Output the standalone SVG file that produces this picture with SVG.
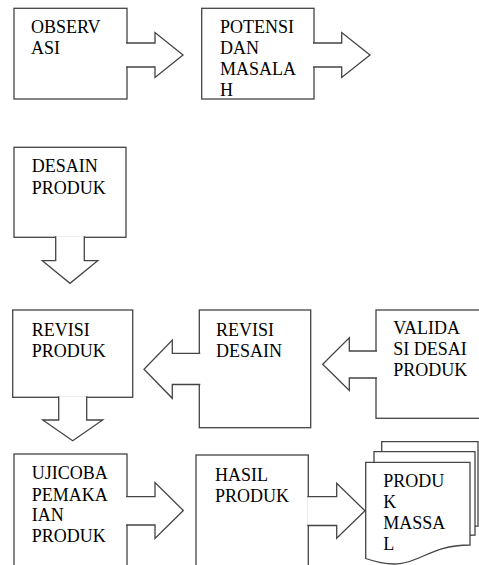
<svg xmlns="http://www.w3.org/2000/svg" width="479" height="565" viewBox="0 0 479 565">
<style>
.box{fill:#fff;stroke:#444;stroke-width:1.3}
.arr{fill:#fff;stroke:#444;stroke-width:1.3;stroke-linejoin:miter}
.t{font-family:"Liberation Serif","Times New Roman",serif;font-size:18px;fill:#000}
</style>
<rect width="479" height="565" fill="#fff"/>
<g id="observasi">
<rect class="box" x="14" y="8.3" width="113" height="90.7"/>
<text class="t" x="31" y="33.3">OBSERV</text>
<text class="t" x="31" y="54">ASI</text>
</g>
<g id="potensi">
<rect class="box" x="201.7" y="8.3" width="112.3" height="90.7"/>
<text class="t" x="220" y="33.3">POTENSI</text>
<text class="t" x="220" y="54">DAN</text>
<text class="t" x="220" y="74.8">MASALA</text>
<text class="t" x="220" y="95.5">H</text>
</g>
<g id="desain">
<rect class="box" x="14" y="147.3" width="112" height="90"/>
<text class="t" x="31.7" y="171.7">DESAIN</text>
<text class="t" x="31.7" y="193.5">PRODUK</text>
</g>
<g id="revisi-produk">
<rect class="box" x="12.7" y="310" width="120" height="87.3"/>
<text class="t" x="31.7" y="335.7">REVISI</text>
<text class="t" x="31.7" y="356.7">PRODUK</text>
</g>
<g id="revisi-desain">
<rect class="box" x="199.3" y="310" width="111.4" height="117.7"/>
<text class="t" x="216" y="335.7">REVISI</text>
<text class="t" x="216" y="356.7">DESAIN</text>
</g>
<g id="validasi">
<rect class="box" x="376" y="310" width="112" height="108.3"/>
<text class="t" x="393.3" y="334.3">VALIDA</text>
<text class="t" x="393.3" y="355">SI DESAI</text>
<text class="t" x="393.3" y="375.8">PRODUK</text>
</g>
<g id="ujicoba">
<rect class="box" x="14" y="454" width="113" height="130"/>
<text class="t" x="31.7" y="479.3">UJICOBA</text>
<text class="t" x="31.7" y="500.5">PEMAKA</text>
<text class="t" x="31.7" y="521.3">IAN</text>
<text class="t" x="31.7" y="541.7">PRODUK</text>
</g>
<g id="hasil">
<rect class="box" x="196" y="455" width="112.3" height="130"/>
<text class="t" x="215" y="481">HASIL</text>
<text class="t" x="215" y="501.7">PRODUK</text>
</g>
<g id="produk-massal">
<path class="box" d="M381.7,441.7 H478 V526 C429.85,526 429.85,557.5 381.7,539.7 Z"/>
<path class="box" d="M374,451.7 H475 V535 C424.5,535 424.5,566.5 374,548.7 Z"/>
<path class="box" d="M365.7,462.3 H470 V545 C417.85,545 417.85,576.4 365.7,558.5 Z"/>
<text class="t" x="383.3" y="487.3">PRODU</text>
<text class="t" x="383.3" y="508.3">K</text>
<text class="t" x="383.3" y="529.3">MASSA</text>
<text class="t" x="383.3" y="549.5">L</text>
</g>
<g id="connectors">
<path class="arr" d="M126,43 H155 V32.5 L183,55 L155,77.5 V67 H126"/>
<path class="arr" d="M313,43 H341.7 V32.5 L370,55 L341.7,77.5 V67 H313"/>
<path class="arr" d="M55.7,236.3 V260.7 H42.3 L70,283.3 L97.7,260.7 H84.3 V236.3"/>
<path class="arr" d="M58.7,396.3 V420 H42.7 L72.7,440.7 L102.7,420 H86.7 V396.3"/>
<path class="arr" d="M200.3,353.3 H172.3 V340 L144,369.2 L172.3,398.3 V384.5 H200.3"/>
<path class="arr" d="M377,351 H349.3 V337.7 L322.7,364.2 L349.3,390.5 V378 H377"/>
<path class="arr" d="M126,496.7 H155 V482.5 L183.3,510.5 L155,538.5 V525 H126"/>
<path class="arr" d="M307.3,496.7 H336.7 V483.3 L365,510.8 L336.7,538.3 V525.5 H307.3"/>
</g>
</svg>
